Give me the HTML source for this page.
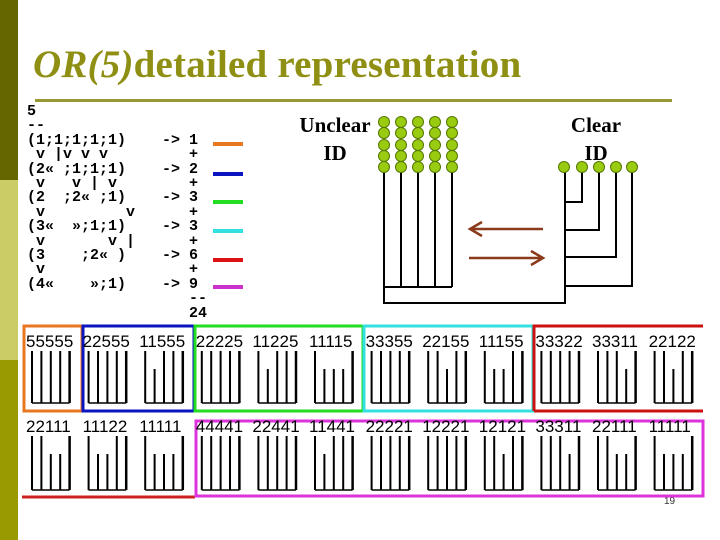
<!DOCTYPE html>
<html><head><meta charset="utf-8"><style>
body{margin:0;width:720px;height:540px;background:#fff;position:relative;overflow:hidden;font-family:"Liberation Sans",sans-serif}
.a{position:absolute}
#t{left:33px;top:42px;font:bold 39px "Liberation Serif",serif;color:#8f8f14;white-space:nowrap;letter-spacing:0.2px}
pre{position:absolute;left:27px;top:105px;margin:0;font:bold 15px/14.4px "Liberation Mono",monospace;color:#000}
.lb{font:bold 21px "Liberation Serif",serif;color:#000;text-align:center}
</style></head><body>
<div class="a" style="left:0;top:0;width:18px;height:180px;background:#666600"></div>
<div class="a" style="left:0;top:180px;width:18px;height:180px;background:#cccc66"></div>
<div class="a" style="left:0;top:360px;width:18px;height:180px;background:#999900"></div>
<div id="t" class="a"><i>OR(5)</i>detailed representation</div>
<div class="a" style="left:35px;top:99px;width:637px;height:3px;background:#999933"></div>
<pre>5
--
(1;1;1;1;1)    -> 1
 v |v v v         +
(2« ;1;1;1)    -> 2
 v   v | v        +
(2  ;2« ;1)    -> 3
 v         v      +
(3«  »;1;1)    -> 3
 v       v |      +
(3    ;2« )    -> 6
 v                +
(4«    »;1)    -> 9
                  --
                  24</pre>
<div class="a lb" style="left:290px;top:111px;width:90px;line-height:28px">Unclear<br>ID</div>
<div class="a lb" style="left:556px;top:111px;width:80px;line-height:28px">Clear<br>ID</div>
<div class="a" style="left:664px;top:496px;font-size:10px;color:#333">19</div>
<svg class="a" style="left:0;top:0" width="720" height="540" id="s">
<g fill="none" stroke-width="3">
<rect x="24" y="326" width="58" height="85" stroke="#e87722"/>
<rect x="83" y="326" width="111" height="85" stroke="#0a14c0"/>
<rect x="195" y="326" width="168" height="85" stroke="#22dd22"/>
<rect x="364" y="326" width="169" height="85" stroke="#33e0e0"/>
<path d="M534 411V326H703M534 411H703" stroke="#cc1111"/>
<path d="M22 497H195" stroke="#cc2222"/>
<rect x="196" y="421" width="507" height="75" stroke="#dd33dd"/>
</g>
<g stroke-width="4">
<line x1="213" y1="144" x2="243" y2="144" stroke="#e87722"/>
<line x1="213" y1="174" x2="243" y2="174" stroke="#0a14c0"/>
<line x1="213" y1="202" x2="243" y2="202" stroke="#22dd22"/>
<line x1="213" y1="231" x2="243" y2="231" stroke="#33e0e0"/>
<line x1="213" y1="260" x2="243" y2="260" stroke="#dd1111"/>
<line x1="213" y1="287" x2="243" y2="287" stroke="#cc33cc"/>
</g>
<g stroke="#000" stroke-width="2" fill="none">
<path d="M384 168V303H565V167M401 168V287M418 168V287M435 168V287M452 168V287M384 287H452"/>
<path d="M582 167V202H565M599 167V230H565M616 167V257H565M632 167V286H565"/>
</g>
<g stroke="#8b3a1a" stroke-width="2.5" fill="none">
<path d="M543 229H470M482 222L470 229L482 236"/>
<path d="M469 258H543M531 251L543 258L531 265"/>
</g>
<g id="dots" fill="#99cc11" stroke="#557700" stroke-width="1"></g>
<g id="cells"></g>
</svg>
<script>
var d=document.getElementById('dots'),h='';
[384,401,418,435,452].forEach(function(x){[122,133,145,156,167].forEach(function(y){h+='<circle cx="'+x+'" cy="'+y+'" r="5.5"/>';});});
[564,582,599,616,632].forEach(function(x){h+='<circle cx="'+x+'" cy="167" r="5.5"/>';});
d.innerHTML=h;
var r1="55555 22555 11555 22225 11225 11115 33355 22155 11155 33322 33311 22122".split(' ');
var r2="22111 11122 11111 44441 22441 11441 22221 12221 12121 33311 22111 11111".split(' ');
var c='';
function cell(lbl,x0,yb,yt,ye){
 c+='<text x="'+x0+'" y="'+yb+'" font-family="Liberation Sans" font-size="17" fill="#000">'+lbl+'</text>';
 var xs=[];for(var i=0;i<5;i++)xs.push(x0+6+9.4*i);
 for(var i=0;i<5;i++){var t=yt;if(lbl[i]=='1'&&i<4&&i>0)t=yt+18;
  c+='<line x1="'+xs[i]+'" y1="'+t+'" x2="'+xs[i]+'" y2="'+ye+'" stroke="#000" stroke-width="'+(i==4?2.5:2)+'"/>';}
 c+='<line x1="'+xs[0]+'" y1="'+ye+'" x2="'+xs[4]+'" y2="'+ye+'" stroke="#000" stroke-width="1.5"/>';
}
for(var k=0;k<12;k++){var x=26+56.6*k;cell(r1[k],x,347,351,403);cell(r2[k],x,432,436,490);}
document.getElementById('cells').innerHTML=c;
</script>
</body></html>
